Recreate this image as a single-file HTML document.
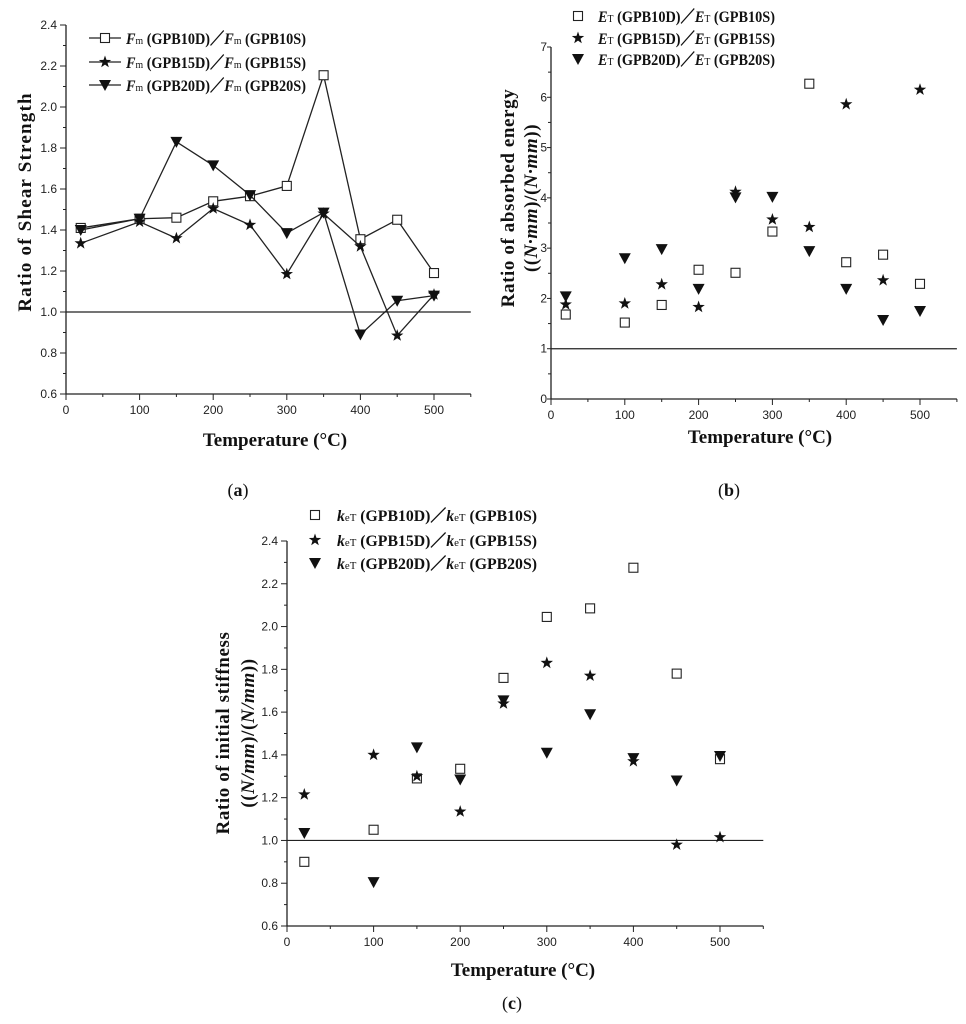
<!DOCTYPE html>
<html><head><meta charset="utf-8"><style>
html,body{margin:0;padding:0;background:#fff;}
svg{display:block;}
.tl{font-family:"Liberation Sans",sans-serif;font-size:12px;fill:#222;}
.ti{font-family:"Liberation Serif",serif;font-size:19px;font-weight:bold;fill:#111;}
.lg{font-family:"Liberation Serif",serif;font-size:16px;font-weight:bold;fill:#111;}
.cap{font-family:"Liberation Serif",serif;font-size:18px;fill:#111;}
</style></head><body>
<svg id="fig" width="966" height="1024" viewBox="0 0 966 1024" xmlns="http://www.w3.org/2000/svg">
<text class="cap" x="238" y="496" text-anchor="middle">(<tspan font-weight="bold">a</tspan>)</text>
<text class="cap" x="729" y="496" text-anchor="middle">(<tspan font-weight="bold">b</tspan>)</text>
<text class="cap" x="512" y="1009" text-anchor="middle">(<tspan font-weight="bold">c</tspan>)</text>
</svg>
<script>
const temps = [20,100,150,200,250,300,350,400,450,500];
const xTicks = [0,100,200,300,400,500];
const shear10 = [1.41,1.455,1.46,1.54,1.565,1.615,2.155,1.355,1.45,1.19];
const shear15 = [1.335,1.44,1.36,1.505,1.425,1.185,1.48,1.32,0.885,1.085];
const shear20 = [1.40,1.455,1.83,1.715,1.57,1.385,1.485,0.89,1.055,1.08];
const shearTicks = ["0.6","0.8","1.0","1.2","1.4","1.6","1.8","2.0","2.2","2.4"];
const energy10 = [1.68,1.52,1.87,2.57,2.51,3.33,6.27,2.72,2.87,2.29];
const energy15 = [1.88,1.90,2.28,1.83,4.12,3.57,3.42,5.86,2.36,6.15];
const energy20 = [2.04,2.80,2.98,2.19,4.01,4.02,2.94,2.19,1.57,1.75];
const energyTicks = ["0","1","2","3","4","5","6","7"];
const stiff10 = [0.90,1.05,1.29,1.335,1.76,2.045,2.085,2.275,1.78,1.38];
const stiff15 = [1.215,1.40,1.30,1.135,1.64,1.83,1.77,1.37,0.98,1.015];
const stiff20 = [1.035,0.805,1.435,1.285,1.655,1.41,1.59,1.385,1.28,1.395];
const stiffTicks = ["0.6","0.8","1.0","1.2","1.4","1.6","1.8","2.0","2.2","2.4"];

const NS="http://www.w3.org/2000/svg";
const fig=document.getElementById('fig');
function mk(tag,attrs,parent){const e=document.createElementNS(NS,tag);for(const k in attrs)e.setAttribute(k,attrs[k]);(parent||fig).appendChild(e);return e;}

function marker(g,type,x,y){
  let e;
  if(type==='sq'){e=mk('rect',{x:x-4.5,y:y-4.5,width:9,height:9,fill:'#fff',stroke:'#222','stroke-width':1.1},g);}
  else if(type==='star'){let p=[];for(let i=0;i<10;i++){const r=i%2?2.6:6.5;const a=-Math.PI/2+i*Math.PI/5;p.push((x+r*Math.cos(a)).toFixed(1)+','+(y+r*Math.sin(a)).toFixed(1));}
    e=mk('polygon',{points:p.join(' '),fill:'#111'},g);}
  else {e=mk('polygon',{points:`${x-6},${y-5} ${x+6},${y-5} ${x},${y+6}`,fill:'#111'},g);}
  return e;
}

function chart(c){
  const g=mk('g',{});
  
  
  const X=v=>c.x0+(v/500)*(c.x500-c.x0);
  const ymin=parseFloat(c.yt[0]),ymax=parseFloat(c.yt[c.yt.length-1]);
  const Y=v=>c.yb+(v-ymin)/(ymax-ymin)*(c.yt_px-c.yb);
  const xEnd=X(550);
  const tk=c.tk||6, tlo=c.tlo||9;
  const ax=mk('path',{d:`M${c.x0},${c.yt_px} V${c.yb} H${xEnd}`,fill:'none',stroke:'#222','stroke-width':1.3},g);
  
  
  c.yt.forEach((t,i)=>{const v=parseFloat(t);const y=Y(v);
    mk('line',{x1:c.x0-tk,x2:c.x0,y1:y,y2:y,stroke:'#222'},g);
    if(i<c.yt.length-1){const ym=Y(v+(parseFloat(c.yt[1])-parseFloat(c.yt[0]))/2);mk('line',{x1:c.x0-3,x2:c.x0,y1:ym,y2:ym,stroke:'#222'},g);}
    const tx=mk('text',{x:c.x0-tlo,y:y+4,'text-anchor':'end',class:'tl'},g);tx.textContent=t;
    
    
  });
  for(let v=0;v<=550;v+=50){const x=X(v);mk('line',{x1:x,x2:x,y1:c.yb,y2:c.yb+(v%100?3:6),stroke:'#222'},g);}
  xTicks.forEach(v=>{const tx=mk('text',{x:X(v),y:c.yb+20,'text-anchor':'middle',class:'tl'},g);tx.textContent=v;
    
    });
  const rl=mk('line',{x1:c.x0,x2:xEnd,y1:Y(1),y2:Y(1),stroke:'#222','stroke-width':1.2},g);
  
  
  const types=['sq','star','tri'];
  c.series.forEach((s,si)=>{
    const sg=mk('g',{},g);
    
    
    if(c.lines){mk('polyline',{points:temps.map((t,i)=>X(t)+','+Y(s[i])).join(' '),fill:'none',stroke:'#222','stroke-width':1.3},sg);}
    temps.forEach((t,i)=>{const m=marker(sg,types[si],X(t),Y(s[i]));
      
      });
  });
  const xt=mk('text',{x:c.xtx,y:c.xty,'text-anchor':'middle',class:'ti'},g);xt.textContent='Temperature (°C)';
  
  
  c.ytitle.forEach((line,i)=>{const t=mk('text',{transform:`translate(${c.ytx[i]},${c.yty}) rotate(-90)`,'text-anchor':'middle',class:'ti','letter-spacing':c.ls||0},g);t.innerHTML=line;
    
    });
  c.labels.forEach((lab,i)=>{const ly=c.ly[i];
    const lg=mk('g',{},g);
    
    
    if(c.lines)mk('line',{x1:c.lx-16,x2:c.lx+16,y1:ly,y2:ly,stroke:'#222','stroke-width':1.3},lg);
    marker(lg,types[i],c.lx,ly);
    const t=mk('text',{x:c.ltx,y:ly+6,class:'lg',textLength:c.lw,lengthAdjust:'spacingAndGlyphs'},lg);
    t.innerHTML=`<tspan font-style="italic">${c.sym}</tspan><tspan font-size="11" font-weight="normal">${c.sub}</tspan> (${lab[0]})／<tspan font-style="italic">${c.sym}</tspan><tspan font-size="11" font-weight="normal">${c.sub}</tspan> (${lab[1]})`;
  });
}

chart({name:'chart-a-shear-strength',x0:66,x500:434,yb:394,yt_px:25,yt:shearTicks,series:[shear10,shear15,shear20],lines:true,
  xtx:275,xty:446,ytitle:['Ratio of Shear Strength'],ytx:[31],yty:202,ls:1.2,
  lx:105,ltx:126,lw:180,ly:[38,62,85],sym:'F',sub:'m',labels:[['GPB10D','GPB10S'],['GPB15D','GPB15S'],['GPB20D','GPB20S']]});
chart({name:'chart-b-absorbed-energy',x0:551,x500:920,yb:399,yt_px:47,yt:energyTicks,series:[energy10,energy15,energy20],lines:false,tk:4,tlo:4,
  xtx:760,xty:443,ytitle:['Ratio of absorbed energy','((<tspan font-style="italic">N·mm</tspan>)/(<tspan font-style="italic">N·mm</tspan>))'],ytx:[514,537],yty:198,ls:0.6,
  lx:578,ltx:598,lw:177,ly:[16,38,59],sym:'E',sub:'T',labels:[['GPB10D','GPB10S'],['GPB15D','GPB15S'],['GPB20D','GPB20S']]});
chart({name:'chart-c-initial-stiffness',x0:287,x500:720,yb:926,yt_px:541,yt:stiffTicks,series:[stiff10,stiff15,stiff20],lines:false,
  xtx:523,xty:976,ytitle:['Ratio of initial stiffness','((<tspan font-style="italic">N/mm</tspan>)/(<tspan font-style="italic">N/mm</tspan>))'],ytx:[229,254],yty:733,ls:0.6,
  lx:315,ltx:337,lw:200,ly:[515,540,563],sym:'k',sub:'eT',labels:[['GPB10D','GPB10S'],['GPB15D','GPB15S'],['GPB20D','GPB20S']]});
</script>
</body></html>
